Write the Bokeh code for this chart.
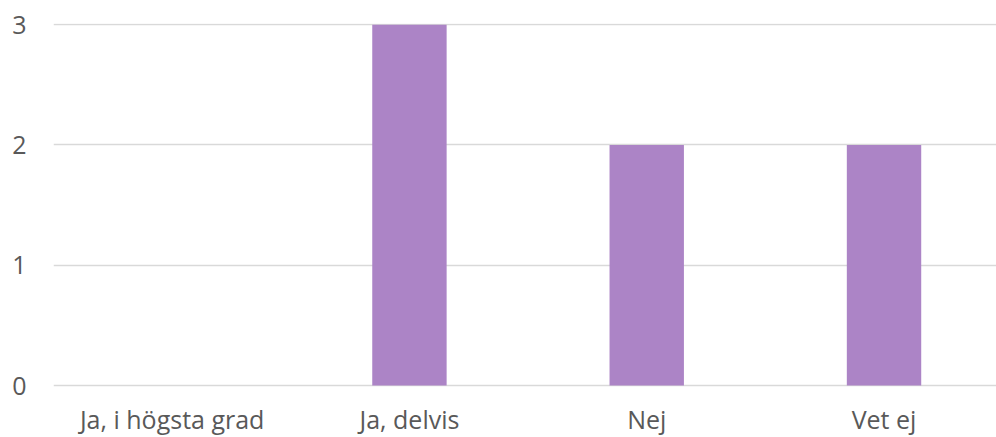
from bokeh.plotting import figure
from bokeh.models import Range1d, FixedTicker, ColumnDataSource
from bokeh.core.properties import value
from bokeh.embed import file_html
from bokeh.resources import INLINE

categories = ["Ja, i högsta grad", "Ja, delvis", "Nej", "Vet ej"]
values = [0, 3, 2, 2]
y_ticks = [0, 1, 2, 3]

xpos = [i + 0.5 for i in range(len(categories))]
src = ColumnDataSource(dict(x=xpos, val=values, cat=categories, base=[0] * len(categories)))

p = figure(x_range=Range1d(0, 3.974), y_range=Range1d(-0.432, 3.01),
           width=996, height=437, output_backend="svg", toolbar_location=None,
           min_border_top=23, min_border_bottom=0, min_border_left=53, min_border_right=0)
p.outline_line_color = None
p.vbar(x="x", bottom="base", top="val", width=0.3135, source=src, color="#AC84C6", line_color=None)

p.xgrid.grid_line_color = None
p.ygrid.grid_line_color = "#D9D9D9"
p.ygrid.grid_line_width = 1.5
p.yaxis.ticker = FixedTicker(ticks=y_ticks)
p.xaxis.visible = False

ax = p.yaxis
ax.axis_line_color = None
ax.major_tick_line_color = None
ax.minor_tick_line_color = None
ax.major_label_text_font = "Open Sans"
ax.major_label_text_font_size = "25px"
ax.major_label_text_color = "#595959"
ax.major_label_standoff = 21

p.text(x="x", y="base", text="cat", source=src, y_offset=33,
       text_align="center", text_baseline="alphabetic",
       text_font=value("Open Sans"), text_font_size="25px", text_color="#595959")

open("out.html", "w").write(file_html(p, INLINE))
